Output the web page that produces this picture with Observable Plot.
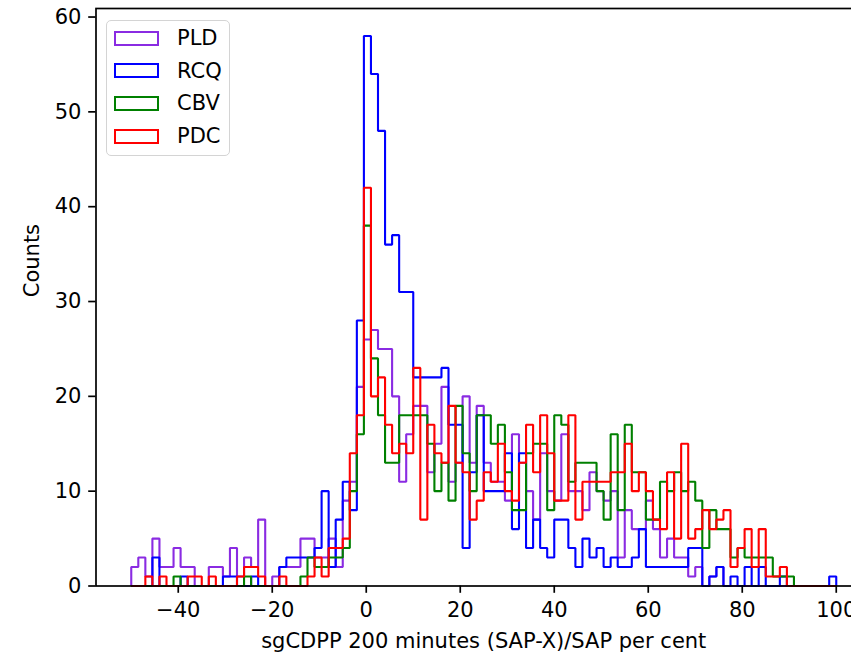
<!DOCTYPE html>
<html>
<head>
<meta charset="utf-8">
<script src="https://cdn.jsdelivr.net/npm/d3@7"></script>
<script src="https://cdn.jsdelivr.net/npm/@observablehq/plot@0.6"></script>
<style>
html, body { margin: 0; padding: 0; background: #fff; overflow: hidden; }
#wrap { position: relative; width: 851px; height: 656px; overflow: hidden; }
#legend-frame { position: absolute; left: 106px; top: 20px; width: 124px; height: 136px; box-sizing: border-box;
  border: 1.5px solid #d4d4d4; border-radius: 5px; background: rgba(255,255,255,0.8); }
.lg-patch { position: absolute; left: 114px; width: 45px; height: 15px; box-sizing: border-box; border: 2px solid; }
.lg-text { position: absolute; left: 177px; font-family: "DejaVu Sans"; font-size: 21px; line-height: 21px; color: #000; white-space: nowrap; }
</style>
</head>
<body>
<div id="wrap"></div>
<script>
// histogram bins: 100 bins of width 1.5 starting at -50
const binStart = -50;
const binWidth = 1.5;

const seriesNames = ["PLD", "RCQ", "CBV", "PDC"];
const seriesColors = ["#8a2be2", "#0000ff", "#008000", "#ff0000"];

const pld = [
  2,3,1,5,2,2,4,2,2,0,
  0,2,2,1,4,1,3,2,7,0,
  1,2,2,2,5,5,3,3,5,2,
  9,11,21,26,27,25,25,20,11,16,
  19,19,12,15,21,11,13,20,13,19,
  13,11,11,9,16,13,10,7,14,10,
  9,16,10,10,8,12,10,9,10,3,
  8,6,6,9,6,3,5,3,3,1,
  2,0,1,2,0,0,0,0,0,0,
  0,0,0,0,0,0,0,0,0,0
];
const rcq = [
  0,0,0,3,0,0,0,1,0,0,
  0,0,0,1,1,0,0,1,0,0,
  0,2,3,3,3,3,4,10,2,7,
  11,8,28,58,54,48,36,37,31,31,
  22,22,22,22,23,17,17,4,12,18,
  10,10,10,14,6,14,4,7,4,3,
  7,7,4,2,5,3,4,2,3,2,
  2,3,6,2,2,2,2,2,2,4,
  4,0,1,2,0,1,0,2,0,2,
  0,0,1,0,0,0,0,0,0,1
];
const cbv = [
  0,0,0,0,0,0,1,0,0,0,
  0,0,0,0,0,0,1,0,0,0,
  0,0,0,0,1,3,2,2,3,3,
  4,10,16,38,24,18,13,13,18,18,
  18,18,15,10,13,9,19,14,10,18,
  18,15,17,12,8,8,14,15,15,8,
  18,17,11,13,13,13,10,7,16,8,
  17,12,12,7,7,11,10,12,10,11,
  9,4,8,6,6,3,4,3,3,3,
  3,1,1,1,0,0,0,0,0,0
];
const pdc = [
  0,0,1,0,1,0,0,0,1,1,
  0,1,0,0,0,1,2,2,1,0,
  0,1,0,0,0,1,3,1,4,4,
  5,14,18,42,20,22,17,14,15,14,
  23,7,17,14,13,19,13,12,7,9,
  12,11,15,10,9,13,17,12,18,14,
  9,9,18,7,11,11,11,11,12,12,
  15,10,12,10,7,6,12,5,15,5,
  6,8,6,7,8,2,4,6,2,6,
  1,1,2,0,0,0,0,0,0,0
];

const yTicks = [0, 10, 20, 30, 40, 50, 60];
const xTicks = [-40, -20, 0, 20, 40, 60, 80, 100];
const xLabel = "sgCDPP 200 minutes (SAP-X)/SAP per cent";
const yLabel = "Counts";

// step outline of a histogram (like matplotlib histtype="step")
function stepPoints(name, counts) {
  const n = counts.length;
  const end = binStart + n * binWidth;
  const pts = [{name, x: binStart, y: 0}];
  counts.forEach((c, i) => pts.push({name, x: binStart + i * binWidth, y: c}));
  pts.push({name, x: end, y: counts[n - 1]});
  pts.push({name, x: end, y: 0});
  return pts;
}

const allCounts = [pld, rcq, cbv, pdc];
const fmt = d => d < 0 ? "\u2212" + (-d) : String(d);

const lineMarks = seriesNames.map((name, i) =>
  Plot.line(stepPoints(name, allCounts[i]), {
    x: "x", y: "y", curve: "step-after",
    stroke: seriesColors[i], strokeWidth: 2.1,
    strokeLinejoin: "miter", strokeLinecap: "butt"
  })
);

const chart = Plot.plot({
  width: 851,
  height: 656,
  marginLeft: 95.5,
  marginRight: -20,
  marginTop: 8,
  marginBottom: 70.5,
  style: {fontFamily: "'DejaVu Sans'", fontSize: "21px", color: "#000", background: "#fff"},
  x: {domain: [-57.5, 107.5]},
  y: {domain: [0, 60.9]},
  marks: [
    ...lineMarks,
    Plot.frame({stroke: "#000", strokeWidth: 1.7}),
    Plot.axisY({ticks: yTicks, tickFormat: fmt, tickSize: 7.3, tickPadding: 7.3, label: null, strokeWidth: 1.7, fontSize: 21}),
    Plot.axisX({ticks: xTicks, tickFormat: fmt, tickSize: 7.3, tickPadding: 9, label: null, strokeWidth: 1.7, fontSize: 21}),
    Plot.text([xLabel], {text: d => d, frameAnchor: "bottom", dy: 62, fontSize: 21}),
    Plot.text([yLabel], {text: d => d, frameAnchor: "left", rotate: -90, dx: -63.5, fontSize: 21})
  ]
});

const wrap = document.getElementById("wrap");
wrap.appendChild(chart);

// legend (matplotlib-style, upper left)
const lf = document.createElement("div");
lf.id = "legend-frame";
wrap.appendChild(lf);
seriesNames.forEach((name, i) => {
  const base = 45.5 + 32.8 * i;
  const p = document.createElement("div");
  p.className = "lg-patch";
  p.style.top = (base - 15) + "px";
  p.style.borderColor = seriesColors[i];
  wrap.appendChild(p);
  const t = document.createElement("div");
  t.className = "lg-text";
  t.style.top = (base - 17.8) + "px";
  t.textContent = name;
  wrap.appendChild(t);
});
</script>
</body>
</html>
